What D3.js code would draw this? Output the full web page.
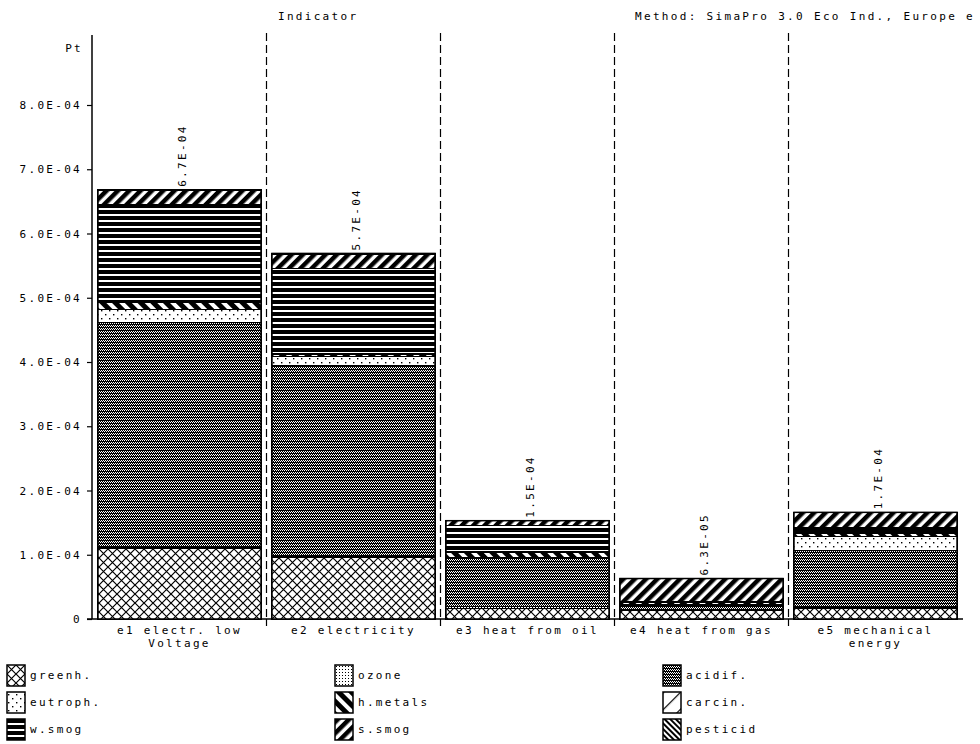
<!DOCTYPE html>
<html lang="en">
<head>
  <meta charset="UTF-8">
  <title>Indicator</title>
  <script src="https://d3js.org/d3.v7.min.js"></script>
  <style>
    body { margin: 0; background: #fff; }
    svg text { font-family: "DejaVu Sans Mono", monospace; font-size: 11px; letter-spacing: 2.3px; fill: #000; }
  </style>
</head>
<body>
  <svg id="chart" width="980" height="744"></svg>

  <script>
    // processes (x categories), each label split into lines
    const categories = ["e1 electr. low Voltage", "e2 electricity", "e3 heat from oil", "e4 heat from gas", "e5 mechanical energy"];
    const catLines = [["e1 electr. low", "Voltage"], ["e2 electricity"], ["e3 heat from oil"], ["e4 heat from gas"], ["e5 mechanical", "energy"]];

    // impact categories, bottom to top of each stack
    const impacts = ["greenh.", "ozone", "acidif.", "eutroph.", "h.metals", "carcin.", "w.smog", "s.smog", "pesticid"];

    // values in Pt, one per process
    const greenh   = [1.10e-4, 0.96e-4, 0.17e-4, 0.14e-4, 0.17e-4];
    const ozone    = [0.02e-4, 0.02e-4, 0.02e-4, 0.01e-4, 0.01e-4];
    const acidif   = [3.50e-4, 2.97e-4, 0.76e-4, 0.06e-4, 0.88e-4];
    const eutroph  = [0.19e-4, 0.13e-4, 0.01e-4, 0.01e-4, 0.22e-4];
    const hmetals  = [0.12e-4, 0.04e-4, 0.08e-4, 0.03e-4, 0.05e-4];
    const carcin   = [0.01e-4, 0.01e-4, 0.01e-4, 0.00e-4, 0.01e-4];
    const wsmog    = [1.51e-4, 1.33e-4, 0.40e-4, 0.02e-4, 0.08e-4];
    const ssmog    = [0.22e-4, 0.22e-4, 0.08e-4, 0.36e-4, 0.24e-4];
    const pesticid = [0.01e-4, 0.01e-4, 0.00e-4, 0.00e-4, 0.00e-4];

    const yTicks = [0, 1e-4, 2e-4, 3e-4, 4e-4, 5e-4, 6e-4, 7e-4, 8e-4];

    const series = [greenh, ozone, acidif, eutroph, hmetals, carcin, wsmog, ssmog, pesticid];
    const table = categories.map((c, i) => {
      const row = { cat: c };
      impacts.forEach((k, j) => { row[k] = series[j][i]; });
      return row;
    });

    const svg = d3.select("#chart");

    // fill patterns, one per impact category
    const defs = svg.append("defs");
    const pid = k => "p-" + k.replace(/\W/g, "");

    function pat(k, w, h, rot) {
      const p = defs.append("pattern")
        .attr("id", pid(k))
        .attr("patternUnits", "userSpaceOnUse")
        .attr("width", w).attr("height", h);
      if (rot) p.attr("patternTransform", `rotate(${rot})`);
      p.append("rect").attr("width", w).attr("height", h).attr("fill", "#fff");
      return p;
    }

    // greenh.: diamond lattice
    let p = pat("greenh.", 9, 9);
    p.append("path").attr("d", "M0,0L9,9M9,0L0,9").attr("stroke", "#000").attr("stroke-width", 1.2);

    // ozone: fine dots
    p = pat("ozone", 3, 3);
    p.append("rect").attr("x", 1).attr("y", 1).attr("width", 1).attr("height", 1).attr("fill", "#000");

    // acidif.: dense checker
    p = pat("acidif.", 4, 3);
    [[0, 0], [1, 0], [2, 0], [3, 0], [0, 1], [2, 1], [1, 2], [3, 2]].forEach(([x, y]) => {
      p.append("rect").attr("x", x).attr("y", y).attr("width", 1).attr("height", 1).attr("fill", "#000");
    });

    // eutroph.: sparse dots
    p = pat("eutroph.", 8, 8);
    [[1, 2], [5, 6]].forEach(([x, y]) => {
      p.append("rect").attr("x", x).attr("y", y).attr("width", 1.4).attr("height", 1.4).attr("fill", "#000");
    });

    // h.metals: thick back diagonal
    p = pat("h.metals", 9, 9, -45);
    p.append("rect").attr("width", 5).attr("height", 9).attr("fill", "#000");

    // carcin.: thin forward diagonal
    p = pat("carcin.", 12, 12, 45);
    p.append("rect").attr("width", 1.2).attr("height", 12).attr("fill", "#000");

    // w.smog: horizontal stripes
    p = pat("w.smog", 6, 6);
    p.append("rect").attr("width", 6).attr("height", 4).attr("fill", "#000");

    // s.smog: thick forward diagonal
    p = pat("s.smog", 8, 8, 45);
    p.append("rect").attr("width", 4.5).attr("height", 8).attr("fill", "#000");

    // pesticid: dense back diagonal
    p = pat("pesticid", 4, 4, -45);
    p.append("rect").attr("width", 2).attr("height", 4).attr("fill", "#000");

    // scales
    const x = d3.scaleBand()
      .domain(categories)
      .range([92.5, 962.5])
      .paddingInner(0.063)
      .paddingOuter(0.0315);

    const y = d3.scaleLinear()
      .domain([0, 8e-4])
      .range([619, 105]);

    const fmt = v => {
      if (v === 0) return "0";
      const [m, e] = v.toExponential(1).split("e");
      const n = Math.abs(+e);
      return m + "E" + (+e < 0 ? "-" : "+") + (n < 10 ? "0" + n : n);
    };

    // header texts
    svg.append("text").attr("x", 278).attr("y", 20).text("Indicator");
    svg.append("text").attr("x", 635).attr("y", 20)
      .attr("textLength", 340).attr("lengthAdjust", "spacing")
      .text("Method: SimaPro 3.0 Eco Ind., Europe e");
    svg.append("text").attr("x", 83).attr("y", 52).attr("text-anchor", "end").text("Pt");

    // y axis
    const yAxis = svg.append("g")
      .attr("transform", "translate(92,0)")
      .call(d3.axisLeft(y).tickValues(yTicks).tickFormat(fmt).tickSize(5).tickPadding(5));
    yAxis.select(".domain").remove();
    yAxis.selectAll("line").attr("stroke", "#000").attr("stroke-width", 1.2);
    svg.append("line")
      .attr("x1", 92).attr("x2", 92)
      .attr("y1", 35).attr("y2", y(0))
      .attr("stroke", "#000").attr("stroke-width", 1.5);

    // x axis
    svg.append("line")
      .attr("x1", 87).attr("x2", 963)
      .attr("y1", y(0)).attr("y2", y(0))
      .attr("stroke", "#000").attr("stroke-width", 1.5);

    // dashed separators between processes
    const step = x.step();
    const seps = categories.slice(1).map((c, i) => x.range()[0] + step * (i + 1));
    svg.selectAll(".sep")
      .data(seps)
      .enter().append("line")
      .attr("class", "sep")
      .attr("x1", d => d).attr("x2", d => d)
      .attr("y1", 33).attr("y2", y(0))
      .attr("stroke", "#000").attr("stroke-width", 1.2)
      .attr("stroke-dasharray", "8,4");
    svg.selectAll(".septick")
      .data(seps)
      .enter().append("line")
      .attr("class", "septick")
      .attr("x1", d => d).attr("x2", d => d)
      .attr("y1", y(0)).attr("y2", y(0) + 7)
      .attr("stroke", "#000").attr("stroke-width", 1.2);

    // stacked bars
    const stack = d3.stack().keys(impacts)(table);

    svg.append("g").selectAll("g")
      .data(stack)
      .enter().append("g")
      .attr("fill", d => `url(#${pid(d.key)})`)
      .selectAll("rect")
      .data(d => d)
      .enter().append("rect")
      .attr("x", d => x(d.data.cat))
      .attr("y", d => y(d[1]))
      .attr("width", x.bandwidth())
      .attr("height", d => y(d[0]) - y(d[1]))
      .attr("stroke", "#000")
      .attr("stroke-width", 1)
      .attr("shape-rendering", "crispEdges");

    // outline of each whole bar
    const totals = table.map(r => d3.sum(impacts, k => r[k]));
    svg.append("g").selectAll("rect")
      .data(table)
      .enter().append("rect")
      .attr("x", d => x(d.cat))
      .attr("y", (d, i) => y(totals[i]))
      .attr("width", x.bandwidth())
      .attr("height", (d, i) => y(0) - y(totals[i]))
      .attr("fill", "none")
      .attr("stroke", "#000")
      .attr("stroke-width", 1.5);

    // total labels, rotated
    svg.append("g").selectAll("text")
      .data(table)
      .enter().append("text")
      .attr("transform", (d, i) => `translate(${x(d.cat) + x.bandwidth() / 2 + 3},${y(totals[i]) - 3}) rotate(-90)`)
      .attr("dominant-baseline", "middle")
      .text((d, i) => fmt(totals[i]));

    // category labels
    svg.append("g").selectAll("text")
      .data(categories)
      .enter().append("text")
      .attr("x", d => x(d) + x.bandwidth() / 2)
      .attr("y", 634)
      .attr("text-anchor", "middle")
      .each(function (d, i) {
        d3.select(this).selectAll("tspan")
          .data(catLines[i])
          .enter().append("tspan")
          .attr("x", x(d) + x.bandwidth() / 2)
          .attr("dy", (t, j) => j === 0 ? 0 : 13)
          .text(t => t);
      });

    // legend, three columns
    const legend = svg.append("g").selectAll("g")
      .data(impacts)
      .enter().append("g")
      .attr("transform", (d, i) => `translate(${7 + (i % 3) * 328},${665 + Math.floor(i / 3) * 27})`);

    legend.append("rect")
      .attr("width", 18).attr("height", 21)
      .attr("fill", d => `url(#${pid(d)})`)
      .attr("stroke", "#000").attr("stroke-width", 1.5);

    legend.append("text")
      .attr("x", 23).attr("y", 14)
      .text(d => d);
  </script>
</body>
</html>
